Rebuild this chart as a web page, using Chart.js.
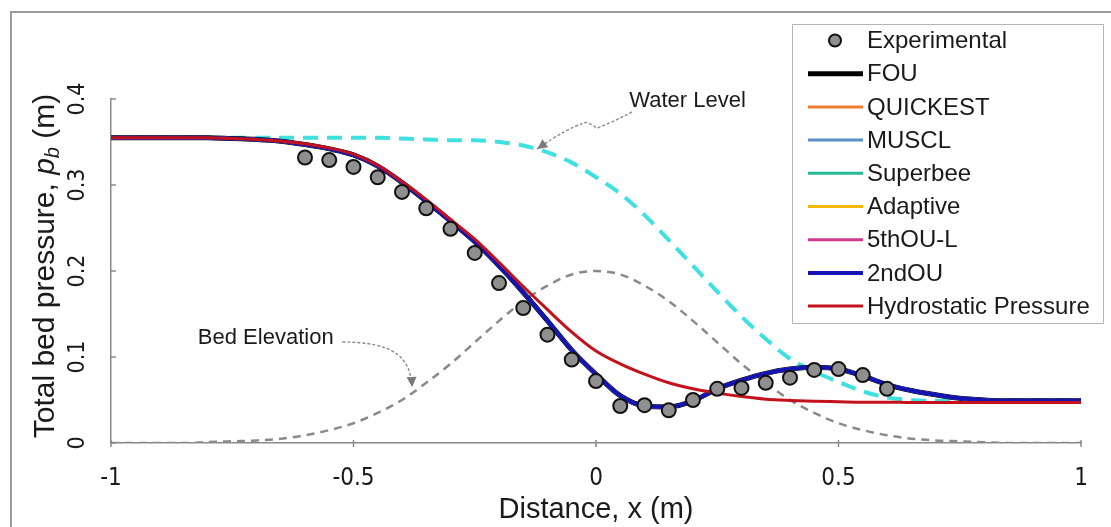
<!DOCTYPE html>
<html><head><meta charset="utf-8">
<script src="https://cdn.jsdelivr.net/npm/chart.js@4.4.1/dist/chart.umd.min.js"></script>
<style>html,body{margin:0;padding:0;background:#fff;}#wrap{position:relative;width:1111px;height:527px;}</style>
</head><body><div id="wrap"><canvas id="c" width="1111" height="527"></canvas></div>
<script>
// ---------------- data ----------------
const xGrid = [-1,-0.95,-0.9,-0.85,-0.8,-0.75,-0.7,-0.65,-0.6,-0.55,-0.5,-0.45,-0.4,-0.35,-0.3,-0.25,-0.2,-0.15,-0.1,-0.05,0,0.05,0.1,0.15,0.2,0.25,0.3,0.35,0.4,0.45,0.5,0.55,0.6,0.65,0.7,0.75,0.8,0.85,0.9,0.95,1];
const hydrostatic = [0.355,0.355,0.355,0.355,0.355,0.354,0.353,0.351,0.348,0.343,0.336,0.323,0.304,0.283,0.260,0.237,0.210,0.182,0.155,0.129,0.107,0.092,0.080,0.070,0.063,0.058,0.054,0.051,0.0495,0.0485,0.048,0.0475,0.0475,0.047,0.047,0.047,0.047,0.047,0.047,0.047,0.047];
const schemeResults = [0.355,0.355,0.355,0.355,0.355,0.354,0.353,0.351,0.347,0.342,0.335,0.322,0.303,0.281,0.258,0.234,0.206,0.175,0.142,0.108,0.080,0.055,0.043,0.042,0.049,0.063,0.073,0.081,0.086,0.088,0.086,0.078,0.068,0.061,0.056,0.052,0.050,0.049,0.049,0.049,0.049];
const bedElevation = [0,0,0,0,0.001,0.002,0.003,0.005,0.009,0.015,0.023,0.035,0.050,0.070,0.092,0.117,0.142,0.165,0.183,0.196,0.200,0.196,0.183,0.165,0.142,0.117,0.092,0.070,0.050,0.035,0.023,0.015,0.009,0.005,0.003,0.002,0.001,0,0,0,0];
const waterLevel = [0.355,0.355,0.355,0.355,0.355,0.355,0.355,0.355,0.355,0.355,0.355,0.355,0.354,0.353,0.352,0.352,0.350,0.346,0.338,0.326,0.309,0.290,0.265,0.236,0.206,0.176,0.147,0.121,0.098,0.083,0.071,0.060,0.053,0.050,0.049,0.049,0.049,0.049,0.049,0.049,0.049];
const expX = [-0.6,-0.55,-0.5,-0.45,-0.4,-0.35,-0.3,-0.25,-0.2,-0.15,-0.1,-0.05,0,0.05,0.1,0.15,0.2,0.25,0.3,0.35,0.4,0.45,0.5,0.55,0.6];
const expY = [0.332,0.329,0.321,0.309,0.292,0.273,0.249,0.221,0.186,0.157,0.126,0.097,0.072,0.043,0.044,0.038,0.050,0.063,0.064,0.070,0.076,0.085,0.086,0.079,0.063];
const xTicks = [-1,-0.5,0,0.5,1];
const yTicks = [0,0.1,0.2,0.3,0.4];
const legendLabels = ['Experimental','FOU','QUICKEST','MUSCL','Superbee','Adaptive','5thOU-L','2ndOU','Hydrostatic Pressure'];

// ---------------- helpers ----------------
const pts = (xs, ys) => xs.map((x, i) => ({x: x, y: ys[i]}));
const SANS = "'Liberation Sans', Arial, sans-serif";
const NARROW = "'Liberation Sans Narrow', 'Arial Narrow', 'DejaVu Sans Condensed', 'Liberation Sans', sans-serif";

function lineSet(label, ys, color, width, order, dash) {
  return {label: label, data: pts(xGrid, ys), showLine: true, borderColor: color, backgroundColor: color,
    borderWidth: width, pointRadius: 0, cubicInterpolationMode: 'monotone', order: order,
    borderDash: dash || [], legendWidth: width, fill: false};
}

const datasets = [
  {label: legendLabels[0], data: pts(expX, expY), showLine: false, pointRadius: 7, pointBorderWidth: 2,
   pointBackgroundColor: '#8f8f8f', pointBorderColor: '#111', borderColor: '#111', backgroundColor: '#8f8f8f', order: 0},
  lineSet(legendLabels[1], schemeResults, '#000000', 5, 8),
  lineSet(legendLabels[2], schemeResults, '#ed7d31', 3, 7),
  lineSet(legendLabels[3], schemeResults, '#5a8fc8', 3.5, 6),
  lineSet(legendLabels[4], schemeResults, '#26b99a', 3, 5),
  lineSet(legendLabels[5], schemeResults, '#f5b800', 3, 4),
  lineSet(legendLabels[6], schemeResults, '#cf3a8c', 3, 3),
  lineSet(legendLabels[7], schemeResults, '#1414b4', 4, 2),
  lineSet(legendLabels[8], hydrostatic, '#c3121c', 3, 1),
  Object.assign(lineSet('Water Level', waterLevel, '#3ee0e0', 4, 9, [15, 9]), {inLegend: false}),
  Object.assign(lineSet('Bed Elevation', bedElevation, '#8a8a8a', 2.5, 10, [8, 6]), {inLegend: false})
];

// frame around the figure
const framePlugin = {
  id: 'frame',
  beforeDraw(chart) {
    const ctx = chart.ctx;
    ctx.save();
    ctx.fillStyle = '#fff';
    ctx.fillRect(0, 0, chart.width, chart.height);
    ctx.strokeStyle = '#9a9a9a';
    ctx.lineWidth = 2;
    ctx.strokeRect(11, 12, chart.width + 20, chart.height + 20);
    ctx.restore();
  }
};

// inward y ticks, crossing x ticks
const tickPlugin = {
  id: 'tickmarks',
  afterDraw(chart) {
    const ctx = chart.ctx, xs = chart.scales.x, ys = chart.scales.y, a = chart.chartArea;
    ctx.save();
    ctx.strokeStyle = '#8a8a8a';
    ctx.lineWidth = 1.5;
    ctx.beginPath();
    yTicks.forEach(v => { const p = ys.getPixelForValue(v); ctx.moveTo(a.left, p); ctx.lineTo(a.left + 5, p); });
    xTicks.forEach(v => { const p = xs.getPixelForValue(v); ctx.moveTo(p, a.bottom - 3); ctx.lineTo(p, a.bottom + 4); });
    ctx.stroke();
    ctx.restore();
  }
};

// y axis title with italic p and subscript b
const yTitlePlugin = {
  id: 'ytitle',
  afterDraw(chart) {
    const ctx = chart.ctx, a = chart.chartArea;
    const size = 30;
    const parts = [
      {t: 'Total bed pressure, ', f: `${size}px ${SANS}`, dy: 0},
      {t: 'p', f: `italic ${size}px ${SANS}`, dy: 0},
      {t: 'b', f: `italic ${Math.round(size * 0.68)}px ${SANS}`, dy: 5},
      {t: ' (m)', f: `${size}px ${SANS}`, dy: 0}
    ];
    ctx.save();
    let total = 0;
    parts.forEach(p => { ctx.font = p.f; p.w = ctx.measureText(p.t).width; total += p.w; });
    ctx.translate(54, (a.top + a.bottom) / 2 - 5);
    ctx.rotate(-Math.PI / 2);
    ctx.fillStyle = '#1a1a1a';
    ctx.textBaseline = 'alphabetic';
    ctx.textAlign = 'left';
    let x = -total / 2;
    parts.forEach(p => { ctx.font = p.f; ctx.fillText(p.t, x, p.dy); x += p.w; });
    ctx.restore();
  }
};

// callouts (in data coordinates)
const callouts = [
  {text: 'Water Level', tx: 0.0685, ty: 0.398, align: 'left',
   path: [[0.0745, 0.385], [0.03, 0.372], [0.0023, 0.366], [-0.02, 0.375], [-0.0245, 0.372], [-0.06, 0.366], [-0.1214, 0.3419]]},
  {text: 'Bed Elevation', tx: -0.541, ty: 0.122, align: 'right',
   path: [[-0.523, 0.1174], [-0.414, 0.1174], [-0.383, 0.0988], [-0.379, 0.0651]]}
];
const calloutPlugin = {
  id: 'callouts',
  afterDatasetsDraw(chart) {
    const ctx = chart.ctx, xs = chart.scales.x, ys = chart.scales.y;
    ctx.save();
    callouts.forEach(c => {
      ctx.font = `22px ${SANS}`;
      ctx.fillStyle = '#1a1a1a';
      ctx.textAlign = c.align;
      ctx.textBaseline = 'middle';
      ctx.fillText(c.text, xs.getPixelForValue(c.tx), ys.getPixelForValue(c.ty));
      const P = c.path.map(p => [xs.getPixelForValue(p[0]), ys.getPixelForValue(p[1])]);
      ctx.strokeStyle = '#8a8a8a';
      ctx.lineWidth = 1.4;
      ctx.setLineDash([3, 2]);
      ctx.beginPath();
      ctx.moveTo(P[0][0], P[0][1]);
      if (P.length === 4) {
        ctx.bezierCurveTo(P[1][0], P[1][1], P[2][0], P[2][1], P[3][0], P[3][1]);
      } else {
        ctx.quadraticCurveTo(P[1][0], P[1][1], P[2][0], P[2][1]);
        ctx.quadraticCurveTo(P[3][0], P[3][1], P[4][0], P[4][1]);
        ctx.quadraticCurveTo(P[5][0], P[5][1], P[6][0], P[6][1]);
      }
      ctx.stroke();
      ctx.setLineDash([]);
      const e = P[P.length - 1], s = P[P.length - 2];
      const ang = Math.atan2(e[1] - s[1], e[0] - s[0]);
      const L = 10, W = 5;
      ctx.fillStyle = '#7a7a7a';
      ctx.beginPath();
      ctx.moveTo(e[0], e[1]);
      ctx.lineTo(e[0] - L * Math.cos(ang) + W * Math.sin(ang), e[1] - L * Math.sin(ang) - W * Math.cos(ang));
      ctx.lineTo(e[0] - L * Math.cos(ang) - W * Math.sin(ang), e[1] - L * Math.sin(ang) + W * Math.cos(ang));
      ctx.closePath();
      ctx.fill();
    });
    ctx.restore();
  }
};

// legend box
const legendPlugin = {
  id: 'boxlegend',
  afterDraw(chart) {
    const ctx = chart.ctx;
    const box = {l: 792, t: 24, r: 1103, b: 323};
    ctx.save();
    ctx.fillStyle = '#fff';
    ctx.fillRect(box.l, box.t, box.r - box.l, box.b - box.t);
    ctx.strokeStyle = '#b5b5b5';
    ctx.lineWidth = 1;
    ctx.strokeRect(box.l + 0.5, box.t + 0.5, box.r - box.l, box.b - box.t);
    const items = chart.data.datasets.filter(d => d.inLegend !== false);
    const rowH = 33.2, y0 = 40.5;
    items.forEach((d, i) => {
      const y = y0 + i * rowH;
      if (d.showLine === false) {
        ctx.beginPath();
        ctx.arc(835, y, 6, 0, Math.PI * 2);
        ctx.fillStyle = d.pointBackgroundColor;
        ctx.fill();
        ctx.lineWidth = 2;
        ctx.strokeStyle = d.pointBorderColor;
        ctx.stroke();
      } else {
        ctx.beginPath();
        ctx.moveTo(808, y);
        ctx.lineTo(863, y);
        ctx.lineWidth = d.legendWidth >= 4 ? d.legendWidth : 3;
        ctx.strokeStyle = d.borderColor;
        ctx.stroke();
      }
      ctx.font = `24px ${SANS}`;
      ctx.fillStyle = '#1a1a1a';
      ctx.textAlign = 'left';
      ctx.textBaseline = 'middle';
      ctx.fillText(d.label, 867, y + 1);
    });
    ctx.restore();
  }
};

new Chart(document.getElementById('c'), {
  type: 'scatter',
  data: {datasets: datasets},
  options: {
    responsive: false,
    animation: false,
    events: [],
    layout: {padding: {top: 99, right: 30, left: 0, bottom: 0}},
    plugins: {legend: {display: false}, tooltip: {enabled: false}, title: {display: false}},
    scales: {
      x: {
        type: 'linear', min: -1, max: 1,
        afterBuildTicks: s => { s.ticks = xTicks.map(v => ({value: v})); },
        afterFit: s => { s.height = 84; },
        grid: {display: false, drawTicks: false},
        border: {display: true, color: '#8a8a8a', width: 1.5},
        ticks: {color: '#1a1a1a', padding: 21, maxRotation: 0, callback: v => String(v),
                font: {family: NARROW, size: 24}},
        title: {display: true, text: 'Distance, x (m)', color: '#1a1a1a', padding: {top: 0, bottom: 0}, font: {family: SANS, size: 29}}
      },
      y: {
        type: 'linear', min: 0, max: 0.4,
        afterBuildTicks: s => { s.ticks = yTicks.map(v => ({value: v})); },
        afterFit: s => { s.width = 111; },
        grid: {display: false, drawTicks: false},
        border: {display: true, color: '#8a8a8a', width: 1.5},
        ticks: {color: '#1a1a1a', padding: 17, minRotation: 90, maxRotation: 90, crossAlign: 'center',
                callback: v => String(v), font: {family: NARROW, size: 23}}
      }
    }
  },
  plugins: [framePlugin, tickPlugin, yTitlePlugin, calloutPlugin, legendPlugin]
});
</script>
</body></html>
